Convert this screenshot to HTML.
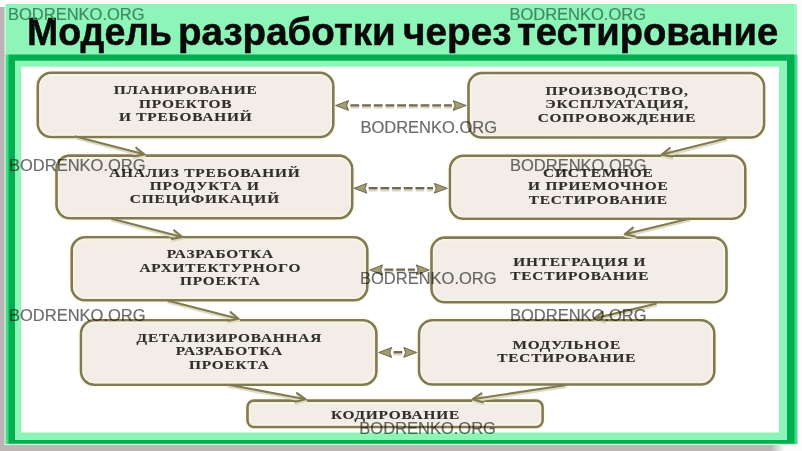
<!DOCTYPE html>
<html><head><meta charset="utf-8">
<style>
html,body{margin:0;padding:0;}
body{width:802px;height:451px;position:relative;overflow:hidden;background:#fbfbfb;font-family:"Liberation Sans",sans-serif;}
.abs{position:absolute;}
#title{left:0;top:0;width:802px;height:55px;}
#title span{position:absolute;top:8.5px;transform-origin:0 0;font:bold 38px/46px "Liberation Sans",sans-serif;color:#0a0a0a;white-space:nowrap;-webkit-text-stroke:0.5px #0a0a0a;}
.tb{position:absolute;display:flex;align-items:center;justify-content:center;}
.t{font:bold 13px/13.4px "Liberation Serif",serif;color:#312f29;text-align:center;white-space:nowrap;letter-spacing:0.7px;padding-left:0.7px;transform:scaleX(1.18);-webkit-text-stroke:0.15px #2e2c27;}
.wm{position:absolute;font:16.5px/18px "Liberation Sans",sans-serif;color:#6c6c6c;mix-blend-mode:multiply;white-space:nowrap;-webkit-text-stroke-width:0.2px;}
svg{position:absolute;left:0;top:0;}
#wrap{position:absolute;left:0;top:0;width:802px;height:451px;filter:blur(0.35px);}
</style></head><body>
<div id="wrap">
<svg width="802" height="451" viewBox="0 0 802 451">
<rect x="0" y="0" width="802" height="451" fill="#fcfcfc"/>
<rect x="0" y="7" width="4.6" height="444" fill="#bab5b4"/>
<defs><linearGradient id="bg1" x1="0" x2="1" y1="0" y2="0"><stop offset="0" stop-color="#bcb7b6"/><stop offset="0.982" stop-color="#bcb7b6"/><stop offset="1" stop-color="#bcb7b6" stop-opacity="0"/></linearGradient></defs>
<rect x="0" y="445" width="785" height="6" fill="url(#bg1)"/>
<rect x="5.5" y="4" width="791.5" height="51" fill="#8df5b8"/>
<rect x="794" y="4" width="3" height="51" fill="#a2f7c6"/>
<rect x="5.5" y="54.6" width="792" height="389.6" fill="#45dc86"/>
<rect x="8.5" y="54.6" width="786" height="388.9" fill="#00b050"/>
<rect x="15" y="60.7" width="772" height="379.3" fill="#8df5b8"/>
<rect x="21" y="66.7" width="758" height="365.8" fill="#ffffff"/>
</svg>
<div class="abs" id="title"><span style="left:27px;transform:scaleX(0.986)">Модель</span><span style="left:178px;transform:scaleX(1.014)">разработки</span><span style="left:403px;transform:scaleX(1.02)">через</span><span style="left:517px;transform:scaleX(1.004)">тестирование</span></div>
<svg width="802" height="451" viewBox="0 0 802 451">
<rect x="35.60" y="70.60" width="299.90" height="68.60" rx="15.70" fill="none" stroke="#fdfbe9" stroke-width="1.8"/>
<rect x="37.80" y="72.80" width="295.50" height="64.20" rx="13.50" fill="#f2ede6" stroke="#807957" stroke-width="2.6"/>
<rect x="40.10" y="75.10" width="290.90" height="59.60" rx="11.20" fill="none" stroke="#f9f3df" stroke-width="1.6"/>
<rect x="54.30" y="153.40" width="300.10" height="67.10" rx="15.70" fill="none" stroke="#fdfbe9" stroke-width="1.8"/>
<rect x="56.50" y="155.60" width="295.70" height="62.70" rx="13.50" fill="#f2ede6" stroke="#807957" stroke-width="2.6"/>
<rect x="58.80" y="157.90" width="291.10" height="58.10" rx="11.20" fill="none" stroke="#f9f3df" stroke-width="1.6"/>
<rect x="69.50" y="235.10" width="300.00" height="67.40" rx="15.70" fill="none" stroke="#fdfbe9" stroke-width="1.8"/>
<rect x="71.70" y="237.30" width="295.60" height="63.00" rx="13.50" fill="#f2ede6" stroke="#807957" stroke-width="2.6"/>
<rect x="74.00" y="239.60" width="291.00" height="58.40" rx="11.20" fill="none" stroke="#f9f3df" stroke-width="1.6"/>
<rect x="78.80" y="318.10" width="299.80" height="68.80" rx="15.70" fill="none" stroke="#fdfbe9" stroke-width="1.8"/>
<rect x="81.00" y="320.30" width="295.40" height="64.40" rx="13.50" fill="#f2ede6" stroke="#807957" stroke-width="2.6"/>
<rect x="83.30" y="322.60" width="290.80" height="59.80" rx="11.20" fill="none" stroke="#f9f3df" stroke-width="1.6"/>
<rect x="245.30" y="398.40" width="299.50" height="30.80" rx="8.70" fill="none" stroke="#fdfbe9" stroke-width="1.8"/>
<rect x="247.50" y="400.60" width="295.10" height="26.40" rx="6.50" fill="#f2ede6" stroke="#807957" stroke-width="2.6"/>
<rect x="249.80" y="402.90" width="290.50" height="21.80" rx="4.20" fill="none" stroke="#f9f3df" stroke-width="1.6"/>
<rect x="466.30" y="70.90" width="299.90" height="68.80" rx="15.70" fill="none" stroke="#fdfbe9" stroke-width="1.8"/>
<rect x="468.50" y="73.10" width="295.50" height="64.40" rx="13.50" fill="#f2ede6" stroke="#807957" stroke-width="2.6"/>
<rect x="470.80" y="75.40" width="290.90" height="59.80" rx="11.20" fill="none" stroke="#f9f3df" stroke-width="1.6"/>
<rect x="447.80" y="153.60" width="299.70" height="67.40" rx="15.70" fill="none" stroke="#fdfbe9" stroke-width="1.8"/>
<rect x="450.00" y="155.80" width="295.30" height="63.00" rx="13.50" fill="#f2ede6" stroke="#807957" stroke-width="2.6"/>
<rect x="452.30" y="158.10" width="290.70" height="58.40" rx="11.20" fill="none" stroke="#f9f3df" stroke-width="1.6"/>
<rect x="429.30" y="235.40" width="299.40" height="69.10" rx="15.70" fill="none" stroke="#fdfbe9" stroke-width="1.8"/>
<rect x="431.50" y="237.60" width="295.00" height="64.70" rx="13.50" fill="#f2ede6" stroke="#807957" stroke-width="2.6"/>
<rect x="433.80" y="239.90" width="290.40" height="60.10" rx="11.20" fill="none" stroke="#f9f3df" stroke-width="1.6"/>
<rect x="416.90" y="318.00" width="299.60" height="68.70" rx="15.70" fill="none" stroke="#fdfbe9" stroke-width="1.8"/>
<rect x="419.10" y="320.20" width="295.20" height="64.30" rx="13.50" fill="#f2ede6" stroke="#807957" stroke-width="2.6"/>
<rect x="421.40" y="322.50" width="290.60" height="59.70" rx="11.20" fill="none" stroke="#f9f3df" stroke-width="1.6"/>
<g stroke="#dedac4" stroke-width="2.2" fill="none" stroke-linecap="round" stroke-linejoin="round" transform="translate(0.4,2.0)">
<line x1="75.4" y1="136.4" x2="143.14" y2="154.10"/>
<polyline points="133.97,156.29 144.30,154.40 136.21,147.70"/>
<line x1="111.8" y1="218.7" x2="181.04" y2="236.70"/>
<polyline points="171.87,238.90 182.20,237.00 174.11,230.31"/>
<line x1="168.2" y1="300.8" x2="237.44" y2="318.40"/>
<polyline points="228.28,320.66 238.60,318.70 230.47,312.05"/>
<line x1="228.4" y1="384.7" x2="304.32" y2="398.98"/>
<polyline points="295.33,401.80 305.50,399.20 296.97,393.08"/>
<line x1="726.0" y1="138.5" x2="662.86" y2="154.31"/>
<polyline points="669.85,147.98 661.70,154.60 672.01,156.59"/>
<line x1="689.0" y1="218.8" x2="625.87" y2="233.92"/>
<polyline points="632.92,227.67 624.70,234.20 634.99,236.30"/>
<line x1="655.8" y1="303.8" x2="595.57" y2="318.12"/>
<polyline points="602.63,311.88 594.40,318.40 604.68,320.52"/>
<line x1="564.8" y1="385.2" x2="473.89" y2="399.02"/>
<polyline points="481.44,393.38 472.70,399.20 482.78,402.16"/>
</g>
<g stroke="#807a4e" stroke-width="2.1" fill="none" stroke-linecap="round" stroke-linejoin="round">
<line x1="75.4" y1="136.4" x2="143.14" y2="154.10"/>
<polyline points="133.97,156.29 144.30,154.40 136.21,147.70"/>
<line x1="111.8" y1="218.7" x2="181.04" y2="236.70"/>
<polyline points="171.87,238.90 182.20,237.00 174.11,230.31"/>
<line x1="168.2" y1="300.8" x2="237.44" y2="318.40"/>
<polyline points="228.28,320.66 238.60,318.70 230.47,312.05"/>
<line x1="228.4" y1="384.7" x2="304.32" y2="398.98"/>
<polyline points="295.33,401.80 305.50,399.20 296.97,393.08"/>
<line x1="726.0" y1="138.5" x2="662.86" y2="154.31"/>
<polyline points="669.85,147.98 661.70,154.60 672.01,156.59"/>
<line x1="689.0" y1="218.8" x2="625.87" y2="233.92"/>
<polyline points="632.92,227.67 624.70,234.20 634.99,236.30"/>
<line x1="655.8" y1="303.8" x2="595.57" y2="318.12"/>
<polyline points="602.63,311.88 594.40,318.40 604.68,320.52"/>
<line x1="564.8" y1="385.2" x2="473.89" y2="399.02"/>
<polyline points="481.44,393.38 472.70,399.20 482.78,402.16"/>
</g>
<g fill="#a39d77" stroke="#767050" stroke-width="1.1" stroke-linejoin="round">
<path d="M335.8,105.5 L348.40000000000003,100.7 L346.6,105.5 L348.40000000000003,110.3 Z"/>
<path d="M466.0,105.5 L453.4,100.7 L455.2,105.5 L453.4,110.3 Z"/>
<path d="M354.1,188.3 L366.70000000000005,183.5 L364.90000000000003,188.3 L366.70000000000005,193.10000000000002 Z"/>
<path d="M447.1,188.3 L434.5,183.5 L436.3,188.3 L434.5,193.10000000000002 Z"/>
<path d="M369.9,269.9 L382.5,265.09999999999997 L380.7,269.9 L382.5,274.7 Z"/>
<path d="M429.0,269.9 L416.4,265.09999999999997 L418.2,269.9 L416.4,274.7 Z"/>
<path d="M378.9,352.4 L391.5,347.59999999999997 L389.7,352.4 L391.5,357.2 Z"/>
<path d="M416.5,352.4 L403.9,347.59999999999997 L405.7,352.4 L403.9,357.2 Z"/>
</g>
<line class="dl2" x1="350.40" y1="107.40" x2="451.90" y2="107.40"/>
<line class="dl" x1="350.40" y1="105.30" x2="451.90" y2="105.30"/>
<line class="dl2" x1="368.70" y1="190.20" x2="433.00" y2="190.20"/>
<line class="dl" x1="368.70" y1="188.10" x2="433.00" y2="188.10"/>
<line class="dl2" x1="384.50" y1="271.80" x2="414.90" y2="271.80"/>
<line class="dl" x1="384.50" y1="269.70" x2="414.90" y2="269.70"/>
<line class="dl2" x1="393.50" y1="354.30" x2="402.40" y2="354.30"/>
<line class="dl" x1="393.50" y1="352.20" x2="402.40" y2="352.20"/>
<style>.dl{stroke:#6f6a4f;stroke-width:2.3;stroke-dasharray:8.8 2.9;} .dl2{stroke:#d9d5bf;stroke-width:2.4;stroke-dasharray:8.8 2.9;}</style>
</svg>
<div class="tb" style="left:37.80px;top:71.50px;width:295.50px;height:64.20px"><div class="t">ПЛАНИРОВАНИЕ<br>ПРОЕКТОВ<br>И ТРЕБОВАНИЙ</div></div>
<div class="tb" style="left:56.50px;top:154.30px;width:295.70px;height:62.70px"><div class="t">АНАЛИЗ ТРЕБОВАНИЙ<br>ПРОДУКТА И<br>СПЕЦИФИКАЦИЙ</div></div>
<div class="tb" style="left:71.70px;top:236.00px;width:295.60px;height:63.00px"><div class="t">РАЗРАБОТКА<br>АРХИТЕКТУРНОГО<br>ПРОЕКТА</div></div>
<div class="tb" style="left:81.00px;top:319.00px;width:295.40px;height:64.40px"><div class="t">ДЕТАЛИЗИРОВАННАЯ<br>РАЗРАБОТКА<br>ПРОЕКТА</div></div>
<div class="tb" style="left:247.50px;top:402.00px;width:295.10px;height:26.40px"><div class="t">КОДИРОВАНИЕ</div></div>
<div class="tb" style="left:468.50px;top:71.80px;width:295.50px;height:64.40px"><div class="t">ПРОИЗВОДСТВО,<br>ЭКСПЛУАТАЦИЯ,<br>СОПРОВОЖДЕНИЕ</div></div>
<div class="tb" style="left:450.00px;top:154.50px;width:295.30px;height:63.00px"><div class="t">СИСТЕМНОЕ<br>И ПРИЕМОЧНОЕ<br>ТЕСТИРОВАНИЕ</div></div>
<div class="tb" style="left:431.50px;top:236.30px;width:295.00px;height:64.70px"><div class="t">ИНТЕГРАЦИЯ И<br>ТЕСТИРОВАНИЕ</div></div>
<div class="tb" style="left:419.10px;top:318.90px;width:295.20px;height:64.30px"><div class="t">МОДУЛЬНОЕ<br>ТЕСТИРОВАНИЕ</div></div>
<div class="wm" style="left:8.0px;top:5.2px;mix-blend-mode:normal;color:#3f8a62">BODRENKO.ORG</div>
<div class="wm" style="left:509.4px;top:5.2px;mix-blend-mode:normal;color:#3f8a62">BODRENKO.ORG</div>
<div class="wm" style="left:360.4px;top:118.0px">BODRENKO.ORG</div>
<div class="wm" style="left:9.0px;top:156.0px">BODRENKO.ORG</div>
<div class="wm" style="left:510.0px;top:156.0px">BODRENKO.ORG</div>
<div class="wm" style="left:360.0px;top:269.0px">BODRENKO.ORG</div>
<div class="wm" style="left:9.0px;top:306.0px">BODRENKO.ORG</div>
<div class="wm" style="left:510.0px;top:306.0px">BODRENKO.ORG</div>
<div class="wm" style="left:359.3px;top:419.4px">BODRENKO.ORG</div>
</div></body></html>
